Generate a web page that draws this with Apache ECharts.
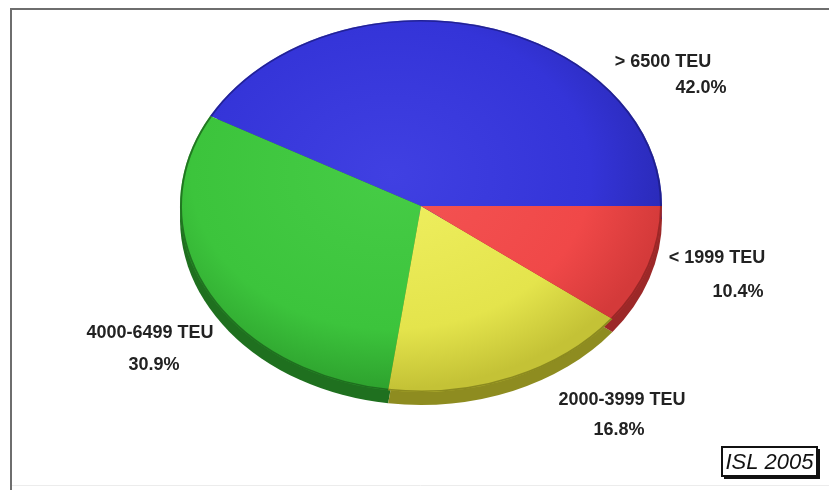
<!DOCTYPE html>
<html>
<head>
<meta charset="utf-8">
<script src="https://cdn.jsdelivr.net/npm/echarts@6/dist/echarts.min.js"></script>
<style>
html,body{margin:0;padding:0;background:#fff;}
#chart{width:829px;height:490px;}
</style>
</head>
<body>
<div id="chart"></div>
<script>
// ---- data ----
const categories = ['> 6500 TEU', '4000-6499 TEU', '2000-3999 TEU', '< 1999 TEU'];
const values = [42.0, 30.9, 16.8, 10.4];
const percentLabels = values.map(v => v.toFixed(1) + '%');
const sourceNote = 'ISL 2005';

// ---- styling / layout (not data) ----
const topColors = [
  ['#4040e2', '#3434d8', '#2a2ab8'],
  ['#46cc46', '#3cc43c', '#2ea22e'],
  ['#f0f062', '#e4e44c', '#c4c236'],
  ['#f45454', '#f04848', '#d43a3a']
];
const rimColors = ['#22228c', '#1f701f', '#8e8c20', '#9c2828'];
const edgeColors = ['#1c1c80', '#1a5e1a', '#7a7818', '#8a2020'];
const CX = 421, CY = 206, RX = 241, RY = 186, RIM = 13;
const K = RY / RX;
const labelPos = [
  [[663, 62], [701, 88]],
  [[150, 333], [154, 365]],
  [[622, 400], [619, 430]],
  [[717, 258], [738, 292]]
];
const FONT = 'bold 18px "Liberation Sans", Arial, sans-serif';

const total = values.reduce((a, b) => a + b, 0);
const cum = [];
values.reduce((acc, v, i) => { cum[i] = acc; return acc + v; }, 0);

const chart = echarts.init(document.getElementById('chart'), null, {renderer: 'canvas'});

function renderItem(params, api) {
  const i = params.dataIndex;
  const v = api.value(0);
  const a1 = cum[i] / total * Math.PI * 2;
  const a2 = (cum[i] + v) / total * Math.PI * 2;
  const sa = -a2, ea = -a1;
  const c = topColors[i];
  const grad = {
    type: 'radial', x: -30, y: -40, r: RX * 1.15, global: true,
    colorStops: [
      {offset: 0, color: c[0]},
      {offset: 0.72, color: c[1]},
      {offset: 1, color: c[2]}
    ]
  };
  return {
    type: 'group',
    x: CX, y: CY, scaleY: K,
    children: [
      {
        type: 'sector', z2: 1,
        shape: {cx: 0, cy: RIM / K, r: RX, r0: 0, startAngle: sa, endAngle: ea, clockwise: true},
        style: {fill: rimColors[i]}
      },
      {
        type: 'sector', z2: 10,
        shape: {cx: 0, cy: 0, r: RX, r0: 0, startAngle: sa, endAngle: ea, clockwise: true},
        style: {fill: grad}
      },
      {
        type: 'arc', z2: 11,
        shape: {cx: 0, cy: 0, r: RX - 1, startAngle: sa, endAngle: ea, clockwise: true},
        style: {stroke: edgeColors[i], lineWidth: 2, fill: null, opacity: 0.75}
      }
    ]
  };
}

const graphics = [
  {type: 'line', shape: {x1: 10, y1: 9, x2: 829, y2: 9}, style: {stroke: '#6e6e6e', lineWidth: 2}},
  {type: 'line', shape: {x1: 11, y1: 8, x2: 11, y2: 490}, style: {stroke: '#6e6e6e', lineWidth: 2}},
  {type: 'line', shape: {x1: 12, y1: 485.5, x2: 829, y2: 485.5}, style: {stroke: '#ececec', lineWidth: 1}}
];
categories.forEach((name, i) => {
  graphics.push({
    type: 'text', x: labelPos[i][0][0], y: labelPos[i][0][1], z: 20,
    style: {text: name, font: FONT, fill: '#222', textAlign: 'center', textVerticalAlign: 'middle'}
  });
  graphics.push({
    type: 'text', x: labelPos[i][1][0], y: labelPos[i][1][1], z: 20,
    style: {text: percentLabels[i], font: FONT, fill: '#222', textAlign: 'center', textVerticalAlign: 'middle'}
  });
});
graphics.push(
  {type: 'rect', shape: {x: 724, y: 449, width: 96, height: 30}, style: {fill: '#111'}, z: 20},
  {type: 'rect', shape: {x: 722, y: 447, width: 95, height: 29}, style: {fill: '#fff', stroke: '#111', lineWidth: 2}, z: 21},
  {type: 'text', x: 769.5, y: 462.5, z: 22,
   style: {text: sourceNote, font: 'italic 22px "Liberation Sans", Arial, sans-serif', fill: '#111', textAlign: 'center', textVerticalAlign: 'middle'}}
);

chart.setOption({
  animation: false,
  backgroundColor: '#ffffff',
  graphic: graphics,
  series: [{
    type: 'custom',
    coordinateSystem: 'none',
    data: values.map((v, i) => ({value: [v, i], name: categories[i]})),
    renderItem: renderItem
  }]
});
</script>
</body>
</html>
